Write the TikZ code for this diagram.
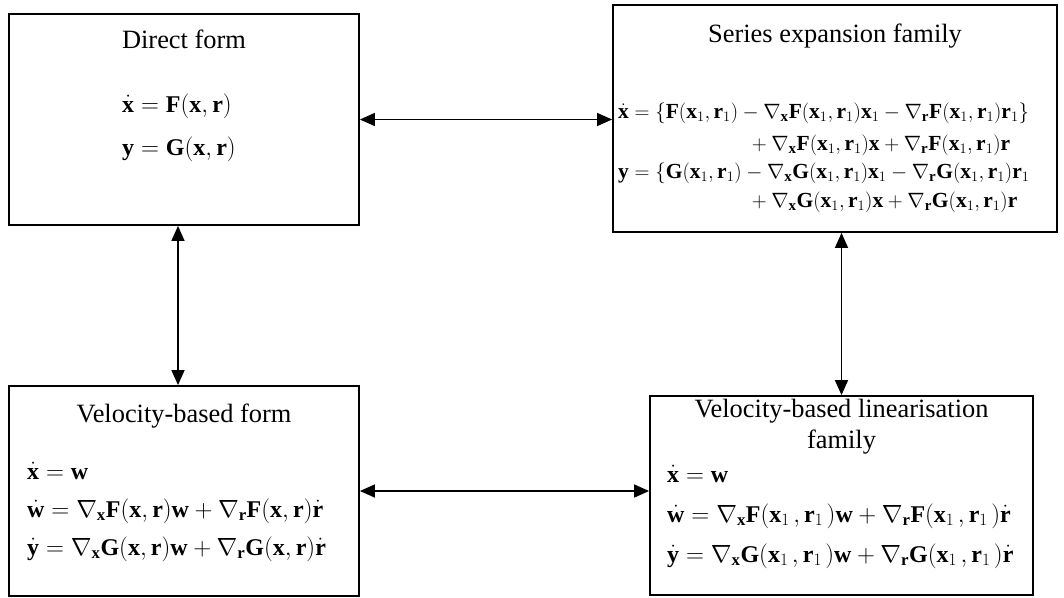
\documentclass[tikz,border=0pt]{standalone}
\usepackage{fontspec}
\setmainfont{Liberation Serif}
\usetikzlibrary{arrows.meta}
\newcommand\Xo{\mathbf{x}_1}
\newcommand\Ro{\mathbf{r}_1}
\newcommand\Xs{\mathbf{x}_1\mkern2.5mu}
\newcommand\Rs{\mathbf{r}_1\mkern2.5mu}
\begin{document}
\begin{tikzpicture}[x=1pt,y=-1pt,
  box/.style={draw, line width=1.8pt, inner sep=0pt},
  ttl/.style={inner sep=0pt, anchor=base, font=\fontsize{26.4}{30}\selectfont},
  eq/.style={inner sep=0pt, anchor=base west, font=\fontsize{24}{28}\selectfont},
  eqs/.style={inner sep=0pt, anchor=base west, font=\fontsize{21.5}{26}\selectfont},
  link/.style={line width=1.5pt, {Triangle[length=15pt,width=13pt]}-{Triangle[length=15pt,width=13pt]}}]
\useasboundingbox (0,0) rectangle (1064,597);
\node[box, minimum width=350pt, minimum height=211pt] (b1) at (184,119.5) {};
\node[box, minimum width=444pt, minimum height=227pt] (b2) at (835,118.5) {};
\node[box, minimum width=350pt, minimum height=210pt] (b3) at (184,491) {};
\node[box, minimum width=383pt, minimum height=199pt] (b4) at (841.5,495.5) {};
\node[ttl] (t1) at (184,48) {Direct form};
\node[ttl] (t2) at (835,42) {Series expansion family};
\node[ttl] (t3) at (184,422) {Velocity-based form};
\node[ttl] (t4a) at (841.5,417) {Velocity-based linearisation};
\node[ttl] (t4b) at (841.5,448) {family};
\node[eq] (e11) at (122,112) {$\dot{\mathbf{x}}=\mathbf{F}(\mathbf{x},\mathbf{r})$};
\node[eq] (e12) at (122,155) {$\mathbf{y}=\mathbf{G}(\mathbf{x},\mathbf{r})$};
\node[eqs] (e21) at (618,118) {$\dot{\mathbf{x}}=\{\mathbf{F}(\Xo,\Ro)-\nabla_{\mathbf{x}}\mathbf{F}(\Xo,\Ro)\Xo-\nabla_{\mathbf{r}}\mathbf{F}(\Xo,\Ro)\Ro\}$};
\node[eqs] (e22) at (747,150) {${}+\nabla_{\mathbf{x}}\mathbf{F}(\Xo,\Ro)\mathbf{x}+\nabla_{\mathbf{r}}\mathbf{F}(\Xo,\Ro)\mathbf{r}$};
\node[eqs] (e23) at (618,178) {$\mathbf{y}=\{\mathbf{G}(\Xo,\Ro)-\nabla_{\mathbf{x}}\mathbf{G}(\Xo,\Ro)\Xo-\nabla_{\mathbf{r}}\mathbf{G}(\Xo,\Ro)\Ro$};
\node[eqs] (e24) at (747,207) {${}+\nabla_{\mathbf{x}}\mathbf{G}(\Xo,\Ro)\mathbf{x}+\nabla_{\mathbf{r}}\mathbf{G}(\Xo,\Ro)\mathbf{r}$};
\node[eq] (e31) at (27,479) {$\dot{\mathbf{x}}=\mathbf{w}$};
\node[eq] (e32) at (27,517) {$\dot{\mathbf{w}}=\nabla_{\mathbf{x}}\mathbf{F}(\mathbf{x},\mathbf{r})\mathbf{w}+\nabla_{\mathbf{r}}\mathbf{F}(\mathbf{x},\mathbf{r})\dot{\mathbf{r}}$};
\node[eq] (e33) at (27,555) {$\dot{\mathbf{y}}=\nabla_{\mathbf{x}}\mathbf{G}(\mathbf{x},\mathbf{r})\mathbf{w}+\nabla_{\mathbf{r}}\mathbf{G}(\mathbf{x},\mathbf{r})\dot{\mathbf{r}}$};
\node[eq] (e41) at (667,482) {$\dot{\mathbf{x}}=\mathbf{w}$};
\node[eq] (e42) at (667,522) {$\dot{\mathbf{w}}=\nabla_{\mathbf{x}}\mathbf{F}(\Xs,\Rs)\mathbf{w}+\nabla_{\mathbf{r}}\mathbf{F}(\Xs,\Rs)\dot{\mathbf{r}}$};
\node[eq] (e43) at (667,562) {$\dot{\mathbf{y}}=\nabla_{\mathbf{x}}\mathbf{G}(\Xs,\Rs)\mathbf{w}+\nabla_{\mathbf{r}}\mathbf{G}(\Xs,\Rs)\dot{\mathbf{r}}$};
\draw[link] (b1.east) -- (b1.east -| b2.west);
\draw[link] ([xshift=-6pt]b1.south) -- ([xshift=-6pt]b3.north);
\draw[link] (b2.south -| b4.north) -- (b4.north);
\draw[link] (b3.east) -- (b3.east -| b4.west);
\end{tikzpicture}
\end{document}
